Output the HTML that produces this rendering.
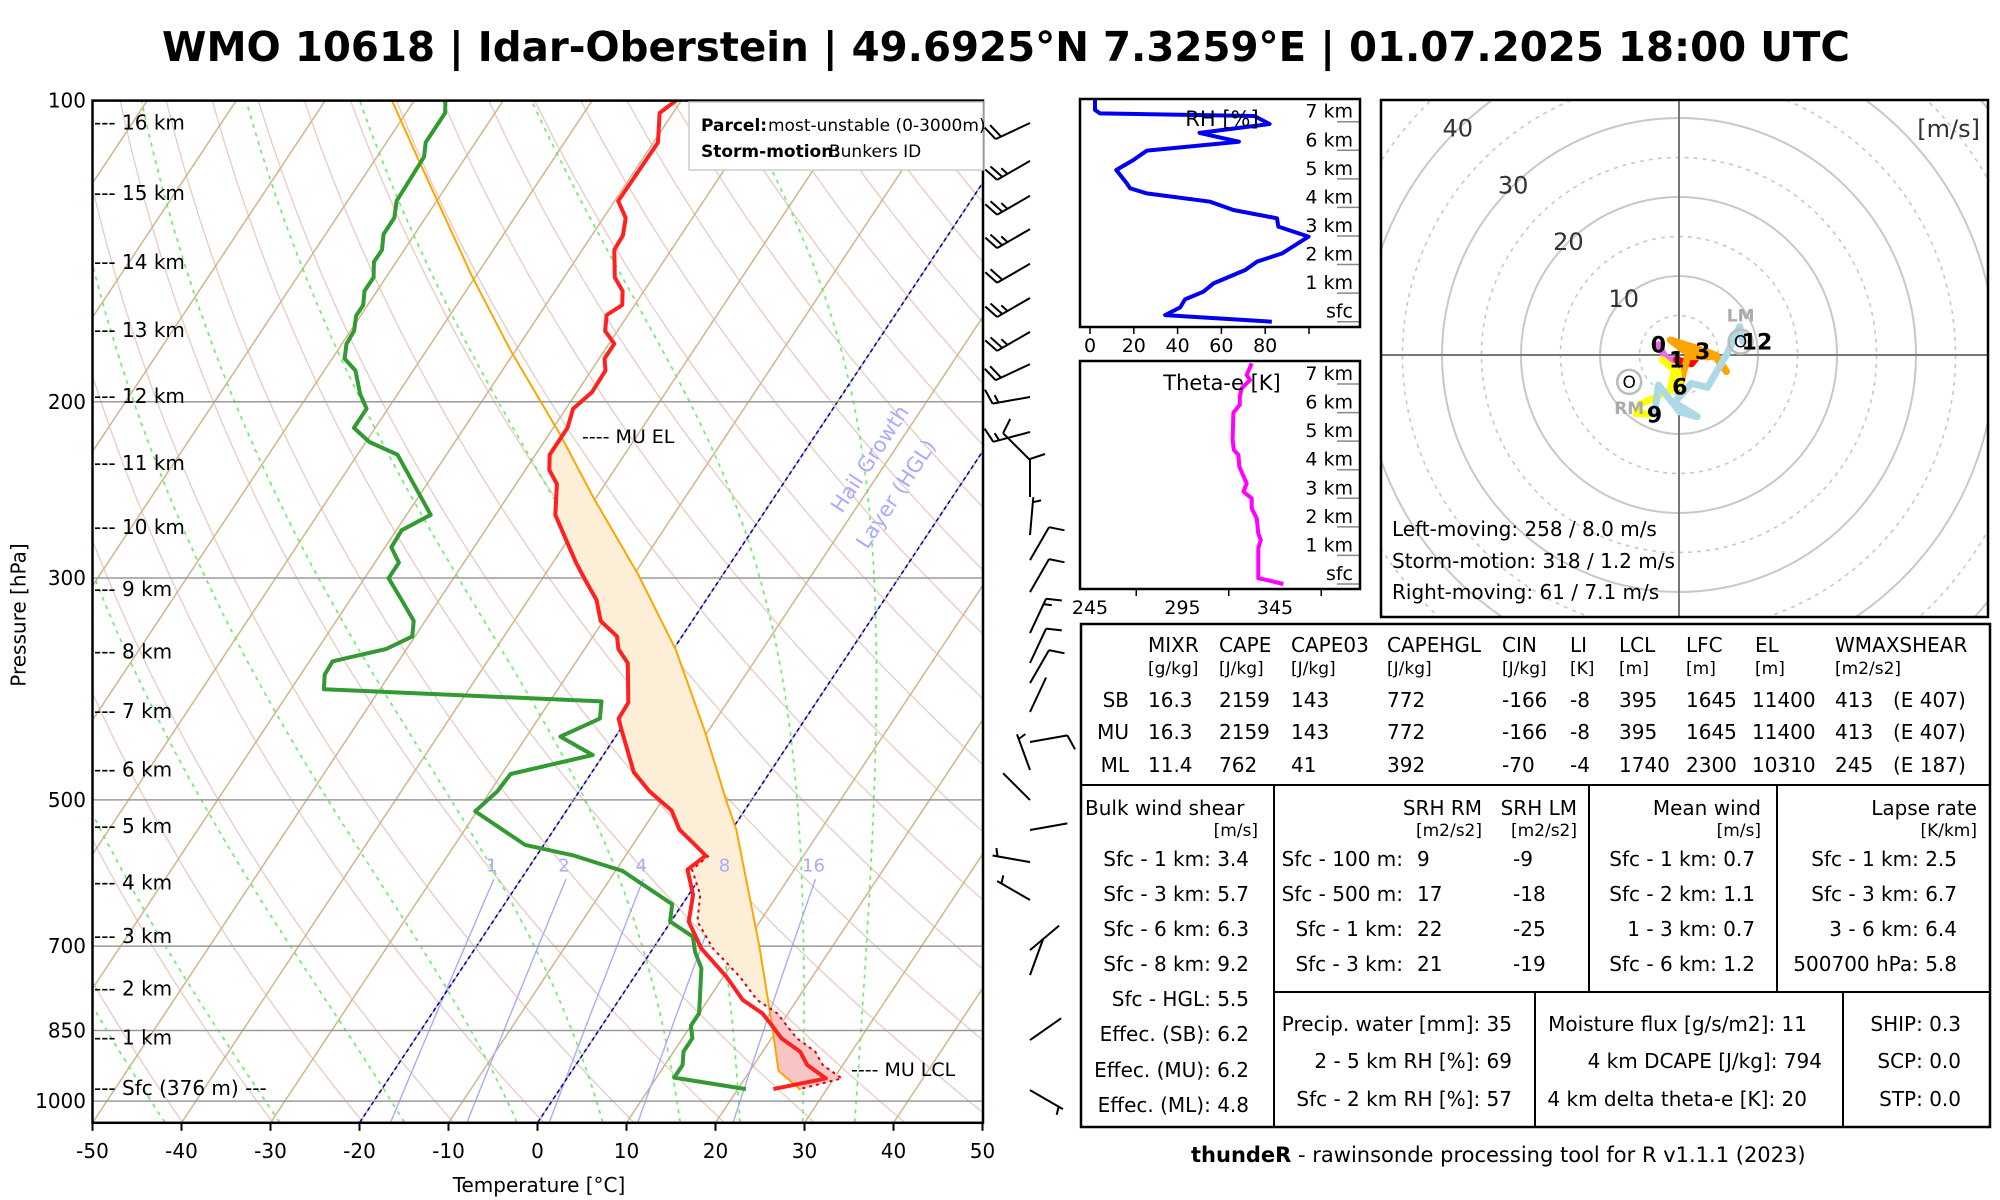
<!DOCTYPE html>
<html><head><meta charset="utf-8"><style>
html,body{margin:0;padding:0;background:#fff;}
svg{display:block;font-family:"DejaVu Sans","Liberation Sans",sans-serif;}
</style></head><body>
<svg id="root" xmlns="http://www.w3.org/2000/svg" width="2000" height="1200" viewBox="0 0 2000 1200">
<rect x="0" y="0" width="2000" height="1200" fill="#fff"/>
<text x="1006" y="61" text-anchor="middle" font-size="41" font-weight="bold" textLength="1688" lengthAdjust="spacingAndGlyphs">WMO 10618 | Idar-Oberstein | 49.6925°N 7.3259°E | 01.07.2025 18:00 UTC</text>
<defs><clipPath id="skclip"><rect x="92.5" y="100.6" width="890.5" height="1022.2"/></clipPath>
<clipPath id="hodoclip"><rect x="1382" y="101" width="606" height="515"/></clipPath></defs>
<g id="skew" clip-path="url(#skclip)"></g>
<g id="skewover"></g>
<rect x="92.5" y="100.6" width="890.5" height="1022.2" fill="none" stroke="#000" stroke-width="2.5"/>
<text x="20" y="615" transform="rotate(-90 20 615)" text-anchor="middle" font-size="20" dominant-baseline="middle">Pressure [hPa]</text>
<text x="539" y="1192" text-anchor="middle" font-size="20">Temperature [°C]</text>
<rect x="689" y="102" width="294" height="68" fill="#fff" stroke="#ccc" stroke-width="1.5"/>
<text x="701" y="131" font-size="17" font-weight="bold">Parcel:</text>
<text x="768" y="131" font-size="17">most-unstable (0-3000m)</text>
<text x="701" y="157" font-size="17" font-weight="bold">Storm-motion:</text>
<text x="829" y="157" font-size="17">Bunkers ID</text>
<text x="582" y="443" font-size="19">---- MU EL</text>
<text x="851" y="1076" font-size="19">---- MU LCL</text>
<g fill="#aaaaff" font-size="21">
<text x="870" y="466" text-anchor="middle" transform="rotate(-56.5 870 459)">Hail Growth</text>
<text x="896" y="501" text-anchor="middle" transform="rotate(-56.5 896 494)">Layer (HGL)</text>
</g>
<g id="barbs"></g>

<g id="rh"></g>
<rect x="1080" y="99" width="280" height="228" fill="none" stroke="#000" stroke-width="2.5"/>
<text x="1222" y="126" text-anchor="middle" font-size="21">RH [%]</text>
<g id="te"></g>
<rect x="1080" y="361" width="280" height="228" fill="none" stroke="#000" stroke-width="2.5"/>
<text x="1222" y="390" text-anchor="middle" font-size="21">Theta-e [K]</text>

<g id="hodo" clip-path="url(#hodoclip)"></g>
<rect x="1381" y="100" width="607" height="517" fill="none" stroke="#000" stroke-width="2.5"/>
<text x="1980" y="137" text-anchor="end" font-size="24" fill="#333">[m/s]</text>
<text x="1392" y="536" font-size="20">Left-moving: 258 / 8.0 m/s</text>
<text x="1392" y="568" font-size="20">Storm-motion: 318 / 1.2 m/s</text>
<text x="1392" y="599" font-size="20">Right-moving: 61 / 7.1 m/s</text>

<g font-size="20">
<rect x="1081" y="624" width="909" height="503" fill="none" stroke="#000" stroke-width="2.5"/>
<line x1="1081" y1="785" x2="1990" y2="785" stroke="#000" stroke-width="2"/>
<line x1="1274" y1="785" x2="1274" y2="1127" stroke="#000" stroke-width="2"/>
<line x1="1589" y1="785" x2="1589" y2="992" stroke="#000" stroke-width="2"/>
<line x1="1777" y1="785" x2="1777" y2="992" stroke="#000" stroke-width="2"/>
<line x1="1274" y1="992" x2="1990" y2="992" stroke="#000" stroke-width="2"/>
<line x1="1535" y1="992" x2="1535" y2="1127" stroke="#000" stroke-width="2"/>
<line x1="1843" y1="992" x2="1843" y2="1127" stroke="#000" stroke-width="2"/>
<g>
<text x="1148" y="652">MIXR</text><text x="1219" y="652">CAPE</text><text x="1291" y="652">CAPE03</text><text x="1387" y="652">CAPEHGL</text><text x="1502" y="652">CIN</text><text x="1570" y="652">LI</text><text x="1619" y="652">LCL</text><text x="1686" y="652">LFC</text><text x="1755" y="652">EL</text><text x="1835" y="652">WMAXSHEAR</text>
<g font-size="17"><text x="1148" y="674">[g/kg]</text><text x="1219" y="674">[J/kg]</text><text x="1291" y="674">[J/kg]</text><text x="1387" y="674">[J/kg]</text><text x="1502" y="674">[J/kg]</text><text x="1570" y="674">[K]</text><text x="1619" y="674">[m]</text><text x="1686" y="674">[m]</text><text x="1755" y="674">[m]</text><text x="1835" y="674">[m2/s2]</text></g>
</g>
<g><text x="1129" y="707" text-anchor="end">SB</text><text x="1148" y="707">16.3</text><text x="1219" y="707">2159</text><text x="1291" y="707">143</text><text x="1387" y="707">772</text><text x="1502" y="707">-166</text><text x="1570" y="707">-8</text><text x="1619" y="707">395</text><text x="1686" y="707">1645</text><text x="1752" y="707">11400</text><text x="1835" y="707">413</text><text x="1893" y="707">(E 407)</text></g>
<g><text x="1129" y="739" text-anchor="end">MU</text><text x="1148" y="739">16.3</text><text x="1219" y="739">2159</text><text x="1291" y="739">143</text><text x="1387" y="739">772</text><text x="1502" y="739">-166</text><text x="1570" y="739">-8</text><text x="1619" y="739">395</text><text x="1686" y="739">1645</text><text x="1752" y="739">11400</text><text x="1835" y="739">413</text><text x="1893" y="739">(E 407)</text></g>
<g><text x="1129" y="772" text-anchor="end">ML</text><text x="1148" y="772">11.4</text><text x="1219" y="772">762</text><text x="1291" y="772">41</text><text x="1387" y="772">392</text><text x="1502" y="772">-70</text><text x="1570" y="772">-4</text><text x="1619" y="772">1740</text><text x="1686" y="772">2300</text><text x="1752" y="772">10310</text><text x="1835" y="772">245</text><text x="1893" y="772">(E 187)</text></g>
<g>
<text x="1085" y="815">Bulk wind shear</text><text x="1258" y="836" text-anchor="end" font-size="17">[m/s]</text>
<g text-anchor="end"><text x="1249" y="866">Sfc - 1 km: 3.4</text><text x="1249" y="901">Sfc - 3 km: 5.7</text><text x="1249" y="936">Sfc - 6 km: 6.3</text><text x="1249" y="971">Sfc - 8 km: 9.2</text><text x="1249" y="1006">Sfc - HGL: 5.5</text><text x="1249" y="1041">Effec. (SB): 6.2</text><text x="1249" y="1077">Effec. (MU): 6.2</text><text x="1249" y="1112">Effec. (ML): 4.8</text></g>
</g>
<g>
<text x="1482" y="815" text-anchor="end">SRH RM</text><text x="1577" y="815" text-anchor="end">SRH LM</text>
<text x="1482" y="836" text-anchor="end" font-size="17">[m2/s2]</text><text x="1577" y="836" text-anchor="end" font-size="17">[m2/s2]</text>
<g text-anchor="end"><text x="1403" y="866">Sfc - 100 m:</text><text x="1403" y="901">Sfc - 500 m:</text><text x="1403" y="936">Sfc - 1 km:</text><text x="1403" y="971">Sfc - 3 km:</text></g>
<text x="1417" y="866">9</text><text x="1417" y="901">17</text><text x="1417" y="936">22</text><text x="1417" y="971">21</text>
<text x="1513" y="866">-9</text><text x="1513" y="901">-18</text><text x="1513" y="936">-25</text><text x="1513" y="971">-19</text>
</g>
<g text-anchor="end">
<text x="1761" y="815">Mean wind</text><text x="1761" y="836" font-size="17">[m/s]</text>
<text x="1755" y="866">Sfc - 1 km: 0.7</text><text x="1755" y="901">Sfc - 2 km: 1.1</text><text x="1755" y="936">1 - 3 km: 0.7</text><text x="1755" y="971">Sfc - 6 km: 1.2</text>
</g>
<g text-anchor="end">
<text x="1977" y="815">Lapse rate</text><text x="1977" y="836" font-size="17">[K/km]</text>
<text x="1957" y="866">Sfc - 1 km: 2.5</text><text x="1957" y="901">Sfc - 3 km: 6.7</text><text x="1957" y="936">3 - 6 km: 6.4</text><text x="1957" y="971">500700 hPa: 5.8</text>
</g>
<g text-anchor="end">
<text x="1512" y="1031">Precip. water [mm]: 35</text><text x="1512" y="1068">2 - 5 km RH [%]: 69</text><text x="1512" y="1106">Sfc - 2 km RH [%]: 57</text>
<text x="1807" y="1031">Moisture flux [g/s/m2]: 11</text><text x="1822" y="1068">4 km DCAPE [J/kg]: 794</text><text x="1807" y="1106">4 km delta theta-e [K]: 20</text>
</g>
<g text-anchor="end">
<text x="1961" y="1031">SHIP: 0.3</text><text x="1961" y="1068">SCP: 0.0</text><text x="1961" y="1106">STP: 0.0</text>
</g>
</g>
<text x="1191" y="1162" font-size="21"><tspan font-weight="bold">thundeR</tspan> - rawinsonde processing tool for R v1.1.1 (2023)</text>
</svg>
<script>
const tempP = [100,102.9,110.1,126,131,136.4,141,150.2,155,160.1,163.8,169.9,175,181.1,186.1,195.7,203.2,212.4,219.4,225.9,234,241.7,259.4,272.3,289.6,301.8,315.7,331.2,343.2,353.3,365,399.7,414.7,425.8,469.1,490.3,512.3,535.4,554.5,568.4,587.2,622,661.5,703.6,751.7,792.2,817.1,839.1,865.3,892.3,920.4,949.2,972.8];
const tempT = [-60.6,-61.5,-59.5,-59.6,-57.5,-56.5,-56.4,-54.3,-52.4,-51.4,-52.4,-51.4,-49.4,-49.4,-48.4,-48.3,-49.2,-48.4,-48.4,-48.4,-47.3,-45.4,-43.3,-40.7,-37.4,-35.0,-32.3,-30.3,-27.3,-26.2,-24.1,-21.1,-21.0,-19.8,-15.3,-12.1,-8.2,-5.9,-3.0,-1.0,-2.0,0.5,2.0,5.4,10.4,13.9,17.1,19.0,21.1,24.2,26.0,29.1,24.0];
const dewP = [100,102.9,110.1,113.8,126,131,136,141,145,150.2,155,160.1,164.1,169.9,175,181.1,186.1,196.5,203.2,212.4,219.4,225.9,259.4,268.7,279.6,289.6,300.2,315.7,331.2,343.2,353.3,363.4,374.7,387.5,398.6,414.7,432.2,450.9,471.1,490.3,513.3,554.5,568.4,588.9,635.6,661.5,685.1,709.8,736.6,817.1,840.6,865.3,892.3,920.4,947.5,972.8];
const dewT = [-86.5,-85.6,-85.6,-84.7,-84.5,-83.5,-83.5,-82.5,-82.5,-81.4,-81.4,-80.5,-80.5,-79.6,-79.5,-78.6,-76.5,-74.2,-72.4,-72.4,-69.6,-65.5,-57.3,-59.4,-59.3,-57.3,-57.3,-54.2,-51.3,-50.3,-52.3,-57.4,-57.3,-56.3,-24.2,-23.1,-26.2,-21.2,-29.0,-29.2,-30.2,-22.1,-15.8,-9.2,-1.15,-0.1,3.6,5.0,6.9,10.0,10.0,11.1,11.1,12.0,12.0,20.9];
const parcelP = [100,115.9,149.6,177.6,216.5,249.3,297.3,353.9,425.8,503.3,535.4,697.3,831.7,932.5,974.6];
const parcelT = [-92.5,-84.5,-70.5,-60.6,-48.5,-40.3,-29.6,-19.7,-10.5,-2.55,0.5,11.6,18.7,23.2,27.1];
const pressureTicks = [100,200,300,500,700,850,1000];
const tempTicks = [-50,-40,-30,-20,-10,0,10,20,30,40,50];
const heightLabels = ['16 km','15 km','14 km','13 km','12 km','11 km','10 km','9 km','8 km','7 km','6 km','5 km','4 km','3 km','2 km','1 km','Sfc (376 m) ---'];
const heightLabelP = [105.2,123.7,145.0,169.6,197.4,230.3,266.8,307.7,355.5,407.4,466.2,530.7,604.6,683.9,771.6,863.8,970.4];
const mixRatios = [1,2,4,8,16];
const moistStarts = [-41.9,-29.0,-15.0,-2.35,7.3,16.0,22.7,29.75,35.6];
const barbP = [105.3,114.9,124.5,134.4,145.6,157.5,170.3,183.4,197.8,214.4,228.7,249,271.8,287.9,309.9,340.6,364.9,382.1,408.4,437.6,466.8,500.2,535.9,576.9,629.6,706.4,748.3,869.1,975];
const barbDir = [245,240,240,240,240,240,240,245,260,255,315,0,5,30,30,25,25,30,25,80,340,315,80,280,300,50,20,55,120];
const barbSpd = [20,25,25,25,20,25,25,20,15,15,10,10,5,10,10,15,10,10,3,10,5,3,3,8,8,3,3,3,5];
const rhH = [7.76,7.41,7.29,7.2,6.92,6.61,6.3,5.99,5.66,5.31,4.84,4.67,4.49,4.2,3.91,3.62,3.33,2.98,2.39,2.1,1.81,1.34,1.05,0.78,0.5,0.23,0];
const rhV = [2.3,2.3,4.6,75,82,50,68,26,19.8,12,16.8,18.3,25.9,54.9,65.5,85.4,86,99.8,87.7,76.2,70.9,56.4,51.8,43.4,41.2,34.3,83];
const rhTicks = [0,20,40,60,80,100];
const teH = [7.72,7.32,7.14,6.85,6.56,6.27,6.0,5.04,4.69,4.52,4.11,3.52,3.23,3.0,2.65,2.30,1.77,1.54,1.25,0.2,0.14,0];
const teV = [332.4,329.7,331.5,327,326,326,322.5,322.1,322.8,325.2,325.7,329.7,327.9,332.4,332.4,335.1,336,337.3,336,336,340.5,349.5];
const teTicks = [270,320,370];
const teLabels = [245,295,345];
const panelHeights = ['sfc','1 km','2 km','3 km','4 km','5 km','6 km','7 km'];
const hodoH = [0,0.5,1,1.5,2.3,3,3.4,3.8,4.3,4.7,5.1,5.4,5.7,6,6.4,6.8,7.2,7.7,8.2,8.6,9,9.3,9.6,9.9,10.2,10.5,10.9,11.3,11.7,12];
const hodoU = [-2.6,-1.6,-0.3,1.6,2.3,3.0,0.6,-1.1,2.1,4.6,6.0,4.6,1.1,0.1,-0.15,-2.1,-0.6,-1.1,-4.9,-5.4,-3.1,-2.6,0.1,2.3,-0.6,1.6,3.6,6.1,7.7,8.1];
const hodoV = [1.3,-0.6,-0.6,-1.1,-0.2,0.5,0.6,1.9,0.9,0,-2.1,-0.2,-0.2,-4.0,-2.1,-0.6,-1.9,-4.5,-6.2,-7.4,-7.5,-3.8,-7.2,-7.8,-6.0,-3.6,-4.1,0.2,3.6,1.7];
const hodoLabelH = [0,1,3,6,9,12];
const ringSpeeds = [5,10,15,20,25,30,35,40,45,50,55,60];
const ringLabels = [10,20,30,40];
const stormU = [7.8,-6.3];
const stormV = [1.7,-3.4];
const stormNames = ['LM','RM'];

const X0=92.5,X1=983,Y0=100.6,Y1=1122.8;
function yP(p){return Y0+434.5*Math.log(p/100);}
function xT(T,p){return X0+(T+50)*8.9+0.663*(Y1-yP(p));}
const NS='http://www.w3.org/2000/svg';
function mk(parent,tag,attrs){const el=document.createElementNS(NS,tag);for(const k in attrs)el.setAttribute(k,attrs[k]);parent.appendChild(el);return el;}
function interp(P,V,p){const lp=Math.log(p);
  for(let i=0;i<P.length-1;i++){const a=Math.log(P[i]),b=Math.log(P[i+1]);if((lp-a)*(lp-b)<=0&&a!==b){return V[i]+(V[i+1]-V[i])*(lp-a)/(b-a);}}
  return lp<Math.log(P[0])?V[0]:V[V.length-1];}
function es(T){return 6.112*Math.exp(17.67*T/(T+243.5));}
function tv(T,Td,p){const e=es(Td);const w=0.622*e/(p-e);return (T+273.15)*(1+0.61*w)-273.15;}
function pathD(pts){return pts.map((q,i)=>(i?'L':'M')+q[0].toFixed(1)+','+q[1].toFixed(1)).join('');}

const sk=document.getElementById('skew');
const ov=document.getElementById('skewover');
for(let th=150;th<=500;th+=10){const pts=[];for(let p=1050;p>=100;p-=10){pts.push([xT(th*Math.pow(p/1000,0.286)-273.15,p),yP(p)]);}
  const el=mk(sk,'path',{d:pathD(pts),fill:'none',stroke:'#ecc9c2','stroke-width':1.3});
  
  }
for(let T=-150;T<=50;T+=10){const el=mk(sk,'line',{x1:xT(T,1050),y1:yP(1050),x2:xT(T,100),y2:yP(100),stroke:'#d2b48c','stroke-width':1.5});
  
  }
moistStarts.forEach(T0=>{let T=T0+273.15;const pts=[];for(let p=1050;p>=100;p-=5){pts.push([xT(T-273.15,p),yP(p)]);
  const e=es(T-273.15);const rs=0.622*e/(p-e);const d=(287*T+2.5e6*rs)/(p*(1005+2.5e6*2.5e6*rs*0.622/(287*T*T)));T-=d*5;}
  const el=mk(sk,'path',{d:pathD(pts),fill:'none',stroke:'#66ee66','stroke-width':1.6,'stroke-dasharray':'4,5'});
  
  });
mixRatios.forEach(w=>{const pts=[];for(let p=1050;p>=600;p-=10){const e=w*p/(622+w);const l=Math.log(e/6.112);const Td=243.5*l/(17.67-l);pts.push([xT(Td,p),yP(p)]);}
  const el=mk(sk,'path',{d:pathD(pts),fill:'none',stroke:'#aaaaff','stroke-width':1.4});
  
  
  const t=mk(ov,'text',{x:pts[pts.length-1][0]-2,y:yP(580)+7,'font-size':18,fill:'#aaaaff','text-anchor':'middle'});
  t.textContent=w;
  
  });
[0,-20].forEach(T=>{const el=mk(sk,'line',{x1:xT(T,1050),y1:yP(1050),x2:xT(T,100),y2:yP(100),stroke:'#0000cc','stroke-width':1.6,'stroke-dasharray':'4,3'});
  
  });
pressureTicks.forEach(p=>{if(p>100){const el=mk(sk,'line',{x1:X0,y1:yP(p),x2:X1,y2:yP(p),stroke:'#999','stroke-width':1.5});
  
  }
  const t=mk(ov,'text',{x:86,y:yP(p)+7,'font-size':20,'text-anchor':'end'});t.textContent=p;
  
  });
tempTicks.forEach(T=>{const x=X0+(T+50)*8.9;const l=mk(ov,'line',{x1:x,y1:Y1,x2:x,y2:Y1+8,stroke:'#000','stroke-width':2});
  
  
  const t=mk(ov,'text',{x:x,y:1158,'font-size':20,'text-anchor':'middle'});t.textContent=T;
  
  });
heightLabels.forEach((s,i)=>{const t=mk(ov,'text',{x:94,y:yP(heightLabelP[i])+7,'font-size':20});t.textContent='--- '+s;
  
  });
const pSfc=972.8;
for(let p=pSfc;p>200;p-=2){const pb=Math.max(p-2,200);
  const fa=[p,pb].map(q=>[interp(parcelP,parcelT,q),tv(interp(tempP,tempT,q),interp(dewP,dewT,q),q)]);
  const diff=(fa[0][0]-fa[0][1])+(fa[1][0]-fa[1][1]);
  let col=null;if(diff>0&&p<840)col='#fdeed8';if(diff<0&&p>800)col='#f8c4c4';
  if(!col)continue;
  const pts=[[xT(fa[0][0],p),yP(p)],[xT(fa[1][0],pb),yP(pb)],[xT(fa[1][1],pb),yP(pb)],[xT(fa[0][1],p),yP(p)]];
  const el=mk(sk,'path',{d:pathD(pts)+'Z',fill:col,stroke:col,'stroke-width':0.6});
  
  }
{const el=mk(sk,'path',{d:pathD(parcelP.map((p,i)=>[xT(parcelT[i],p),yP(p)])),fill:'none',stroke:'#ffa500','stroke-width':2});
 
 }
{const pts=[];tempP.forEach((p,i)=>{if(p>=560)pts.push([xT(tv(tempT[i],interp(dewP,dewT,p),p),p),yP(p)]);});
 const el=mk(sk,'path',{d:pathD(pts),fill:'none',stroke:'#dd0000','stroke-width':2,'stroke-dasharray':'3,4'});
 
 }
{const el=mk(sk,'path',{d:pathD(dewP.map((p,i)=>[xT(dewT[i],p),yP(p)])),fill:'none',stroke:'#339933','stroke-width':4,'stroke-linejoin':'round'});
 
 }
{const el=mk(sk,'path',{d:pathD(tempP.map((p,i)=>[xT(tempT[i],p),yP(p)])),fill:'none',stroke:'#ff2020','stroke-width':4,'stroke-linejoin':'round'});
 
 }
const bg=document.getElementById('barbs');
barbP.forEach((p,i)=>{const bx=1030,by=yP(p);const a=barbDir[i]*Math.PI/180;const vx=Math.sin(a),vy=-Math.cos(a);const L=38;
  const tx=bx+vx*L,ty=by+vy*L;let d='M'+bx+','+by.toFixed(1)+'L'+tx.toFixed(1)+','+ty.toFixed(1);
  let s=barbSpd[i];let pos=0;const px=-vy,py=vx;
  while(s>=10){const sx=tx-vx*pos,sy=ty-vy*pos;d+='M'+sx.toFixed(1)+','+sy.toFixed(1)+'L'+(sx+px*15+vx*5).toFixed(1)+','+(sy+py*15+vy*5).toFixed(1);s-=10;pos+=6;}
  if(s>=5){if(pos===0)pos=5;const sx=tx-vx*pos,sy=ty-vy*pos;d+='M'+sx.toFixed(1)+','+sy.toFixed(1)+'L'+(sx+px*8+vx*2.5).toFixed(1)+','+(sy+py*8+vy*2.5).toFixed(1);}
  const el=mk(bg,'path',{d:d,fill:'none',stroke:'#000','stroke-width':2});
  
  });
const rg=document.getElementById('rh');
function hY(h,base){return base-28.57*h;}
function panelAxes(g,base,name){panelHeights.forEach((s,k)=>{const y=hY(k,base);
  const l=mk(g,'line',{x1:1337,y1:y,x2:1360,y2:y,stroke:'#888','stroke-width':1.5});
  
  
  const t=mk(g,'text',{x:1353,y:y-4,'font-size':19,'text-anchor':'end'});t.textContent=s;
  
  });}
panelAxes(rg,321.7,'rh');
rhTicks.forEach(v=>{const x=1090+2.19*v;const l=mk(rg,'line',{x1:x,y1:327,x2:x,y2:334,stroke:'#000','stroke-width':1.5});
  
  
  if(v<100){const t=mk(rg,'text',{x:x,y:352,'font-size':19,'text-anchor':'middle'});t.textContent=v;
  
  }});
{const el=mk(rg,'path',{d:pathD(rhH.map((h,i)=>[1090+2.19*rhV[i],hY(h,321.7)])),fill:'none',stroke:'#0000ee','stroke-width':4,'stroke-linejoin':'round'});
 
 }
const tg=document.getElementById('te');
panelAxes(tg,584,'thetae');
teTicks.forEach(v=>{const x=1090+1.85*(v-245);const l=mk(tg,'line',{x1:x,y1:589,x2:x,y2:596,stroke:'#000','stroke-width':1.5});
  
  });
teLabels.forEach(v=>{const t=mk(tg,'text',{x:1090+1.85*(v-245),y:614,'font-size':19,'text-anchor':'middle'});t.textContent=v;
  
  });
{const el=mk(tg,'path',{d:pathD(teH.map((h,i)=>[1090+1.85*(teV[i]-245),hY(h,584)])),fill:'none',stroke:'#ff00ff','stroke-width':4,'stroke-linejoin':'round'});
 
 }
const hg=document.getElementById('hodo');
const HX=1679,HY=355,HK=7.9;
function hx(u){return HX+u*HK;}function hy(v){return HY-v*HK;}
ringSpeeds.forEach(r=>{const c=mk(hg,'circle',{cx:HX,cy:HY,r:r*HK,fill:'none',stroke:'#c8c8c8','stroke-width':r%10===0?2:1.6});
  if(r%10!==0)c.setAttribute('stroke-dasharray','4,5');
  
  });
{const a=mk(hg,'line',{x1:1381,y1:HY,x2:1988,y2:HY,stroke:'#777','stroke-width':2});
 
 
 const b=mk(hg,'line',{x1:HX,y1:100,x2:HX,y2:617,stroke:'#777','stroke-width':2});
 
 }
ringLabels.forEach(r=>{const t=mk(hg,'text',{x:HX-r*HK*0.70,y:HY-r*HK*0.72+9,'font-size':24,fill:'#333','text-anchor':'middle'});t.textContent=r;
  
  });
const segCols=[[0,1,'#ee66ee'],[1,3,'#ff0000'],[3,6,'#ffa500'],[6,9,'#ffff00'],[9,12,'#add8e6']];
segCols.forEach(s=>{const pts=[];hodoH.forEach((h,i)=>{if(h>=s[0]&&h<=s[1])pts.push([hx(hodoU[i]),hy(hodoV[i])]);});
  const el=mk(hg,'path',{d:pathD(pts),fill:'none',stroke:s[2],'stroke-width':7,'stroke-linejoin':'round','stroke-linecap':'round'});
  
  });
stormNames.forEach((n,i)=>{const c=mk(hg,'circle',{cx:hx(stormU[i]),cy:hy(stormV[i]),r:12,fill:'none',stroke:'#bbb','stroke-width':2.5});
  
  
  const o=mk(hg,'text',{x:hx(stormU[i]),y:hy(stormV[i])+6,'font-size':17,'text-anchor':'middle'});o.textContent='O';
  
  
  const t=mk(hg,'text',{x:hx(stormU[i]),y:hy(stormV[i])+(n==='LM'?-20:32),'font-size':17,'font-weight':'bold',fill:'#aaa','text-anchor':'middle'});t.textContent=n;
  
  });
hodoLabelH.forEach(h=>{const i=hodoH.indexOf(h);const t=mk(hg,'text',{x:hx(hodoU[i])+(h===12?14:0),y:hy(hodoV[i])+8,'font-size':22,'font-weight':'bold','text-anchor':'middle'});t.textContent=h;
  
  });
</script>
</body></html>
